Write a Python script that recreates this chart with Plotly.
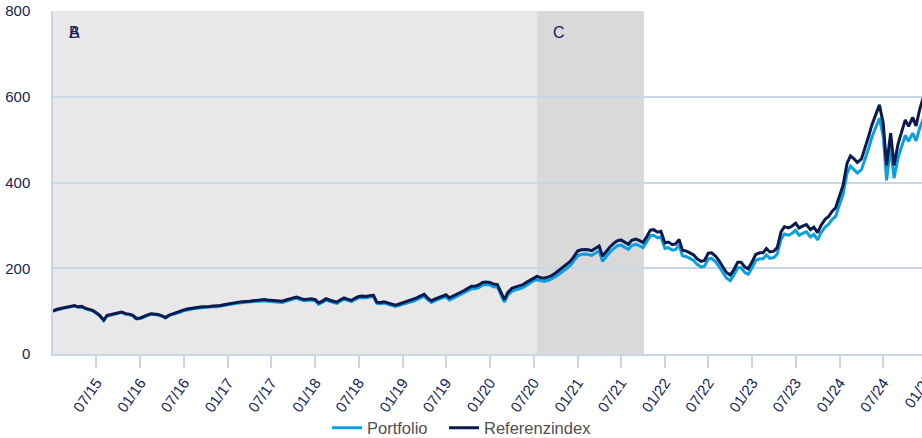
import pandas as pd
import plotly.graph_objects as go

# Semi-monthly observation dates (1st and 15th of each month)
dates = pd.date_range("2015-01-01", periods=240, freq="SMS")

referenzindex = [
    100, 104, 106, 108, 110, 111, 113, 110, 111, 107, 105, 102, 96, 90, 79, 90, 92, 94, 97, 98, 94, 93, 90, 83,
    84, 88, 91, 94, 93, 92, 89, 85, 91, 94, 96, 99, 103, 105, 107, 108, 109, 110, 110, 111, 112, 112, 113, 115,
    117, 119, 120, 121, 122, 122, 123, 124, 125, 126, 127, 126, 125, 124, 123, 123, 126, 129, 131, 133, 130, 127, 128, 129,
    127, 119, 124, 129, 126, 124, 121, 126, 131, 128, 125, 130, 134, 135, 134, 136, 137, 121, 120, 122, 119, 117, 114, 116,
    119, 122, 125, 127, 131, 135, 139, 131, 124, 128, 132, 136, 138, 131, 135, 139, 144, 148, 153, 158, 158, 161, 167, 168,
    167, 163, 162, 145, 127, 143, 153, 156, 159, 161, 167, 172, 178, 181, 178, 177, 180, 183, 189, 195, 203, 209, 216, 226,
    240, 243, 244, 243, 241, 246, 252, 228, 240, 249, 258, 264, 266, 262, 256, 265, 268, 265, 260, 272, 289, 290, 284, 286,
    259, 261, 255, 257, 267, 242, 240, 236, 231, 222, 216, 218, 235, 236, 228, 217, 203, 190, 184, 196, 214, 214, 203, 199,
    216, 232, 236, 236, 246, 238, 240, 248, 285, 297, 294, 298, 305, 294, 299, 302, 290, 296, 283, 300, 314, 320, 333, 341,
    370, 393, 445, 462, 455, 447, 455, 478, 508, 535, 560, 581, 538, 440, 515, 440, 490, 515, 546, 531, 552, 532, 572, 598,
]

portfolio = [
    100, 103, 105, 107, 109, 110, 112, 109, 110, 106, 104, 101, 95, 89, 78, 89, 91, 93, 96, 97, 93, 92, 89, 82,
    83, 87, 90, 93, 92, 91, 88, 84, 90, 92, 94, 97, 101, 103, 105, 106, 107, 108, 108, 109, 110, 110, 111, 113,
    115, 117, 118, 119, 120, 120, 121, 122, 123, 123, 124, 123, 122, 121, 120, 120, 123, 126, 128, 130, 127, 124, 125, 126,
    124, 116, 121, 126, 123, 121, 118, 123, 128, 125, 122, 127, 131, 132, 131, 133, 134, 118, 117, 119, 116, 114, 111, 113,
    115, 118, 121, 123, 127, 131, 135, 127, 120, 124, 128, 131, 133, 126, 130, 134, 139, 143, 148, 152, 152, 155, 161, 162,
    161, 157, 156, 139, 121, 137, 146, 149, 152, 154, 160, 165, 171, 173, 170, 169, 172, 175, 180, 186, 194, 200, 206, 216,
    229, 232, 233, 232, 230, 235, 240, 216, 228, 237, 246, 252, 254, 250, 244, 253, 256, 253, 248, 260, 276, 277, 271, 273,
    246, 248, 242, 244, 254, 229, 227, 223, 218, 209, 203, 205, 222, 223, 215, 204, 190, 177, 171, 183, 201, 201, 190, 186,
    202, 218, 222, 222, 231, 223, 225, 233, 268, 280, 277, 281, 288, 277, 282, 285, 273, 279, 266, 283, 296, 302, 314, 321,
    350, 372, 422, 438, 430, 422, 430, 452, 480, 506, 530, 550, 508, 405, 482, 410, 458, 482, 510, 496, 515, 497, 528, 548,
]

# Market phases shaded behind the lines
phase_names = ["A", "B", "C"]
phase_starts = ["2015-01-01", "2015-01-01", "2020-07-15"]
phase_ends = ["2015-01-01", "2020-07-15", "2021-10-05"]
phase_colors = ["#e8e8e8", "#e8e8e8", "#d9d9d9"]

x_start, x_end = "2015-01-01", "2024-12-10"
x_ticks = pd.date_range("2015-07-01", "2024-07-01", freq="6MS")
y_ticks = [0, 200, 400, 600, 800]

FONT = "Liberation Sans, Arial, Helvetica, sans-serif"
NAVY = "#14245a"
GRID = "#c9d5e8"

fig = go.Figure()
fig.add_trace(go.Scatter(x=dates, y=portfolio, name="Portfolio", mode="lines",
                         legendwidth=72,
                         line=dict(color="#0a9fe0", width=3)))
fig.add_trace(go.Scatter(x=dates, y=referenzindex, name="Referenzindex", mode="lines",
                         line=dict(color="#0b1a4f", width=3)))

for name, s, e, c in zip(phase_names, phase_starts, phase_ends, phase_colors):
    if s != e:
        fig.add_shape(type="rect", xref="x", yref="paper", x0=s, x1=e, y0=0, y1=1,
                      fillcolor=c, line_width=0, layer="below")
    fig.add_annotation(x=s, xref="x", y=1, yref="paper", text=name, showarrow=False,
                       xanchor="left", yanchor="top", xshift=14, yshift=-11,
                       font=dict(family=FONT, size=16, color=NAVY))

# Last half-year tick sits just past the right edge; its label is drawn partially
t0, t1 = pd.Timestamp(x_start), pd.Timestamp(x_end)
frac = (pd.Timestamp("2025-01-01") - t0) / (t1 - t0)
fig.add_annotation(x=frac, xref="paper", y=0, yref="paper", text="01/25", showarrow=False,
                   textangle=-55, xanchor="center", yanchor="middle", xshift=-9, yshift=-36,
                   font=dict(family=FONT, size=15, color=NAVY))

fig.update_layout(
    width=922, height=438,
    margin=dict(l=53, r=0, t=11, b=84, autoexpand=False),
    paper_bgcolor="white", plot_bgcolor="white",
    font=dict(family=FONT, size=15, color=NAVY),
    showlegend=True,
    legend=dict(orientation="h", xref="container", x=327 / 922, xanchor="left",
                yref="container", y=0.023, yanchor="middle",
                font=dict(family=FONT, size=16.5, color="#505050"),
                bgcolor="rgba(0,0,0,0)"),
)
fig.update_xaxes(
    type="date", range=[x_start, x_end], automargin=False,
    tickvals=x_ticks, tickformat="%m/%y", tickangle=-55,
    ticks="outside", ticklen=12, tickwidth=2, tickcolor=GRID,
    showgrid=False, showline=True, linecolor=GRID, linewidth=2,
    tickfont=dict(family=FONT, size=15, color=NAVY),
)
fig.update_yaxes(
    range=[0, 800], tickvals=y_ticks, automargin=False,
    showgrid=True, gridcolor=GRID, gridwidth=1.5, zeroline=False,
    showline=True, linecolor=GRID, linewidth=1.5,
    ticks="outside", ticklen=18, tickcolor="rgba(0,0,0,0)",
    tickfont=dict(family=FONT, size=15, color=NAVY),
)

fig.write_html("out.html", config={"displayModeBar": False})
